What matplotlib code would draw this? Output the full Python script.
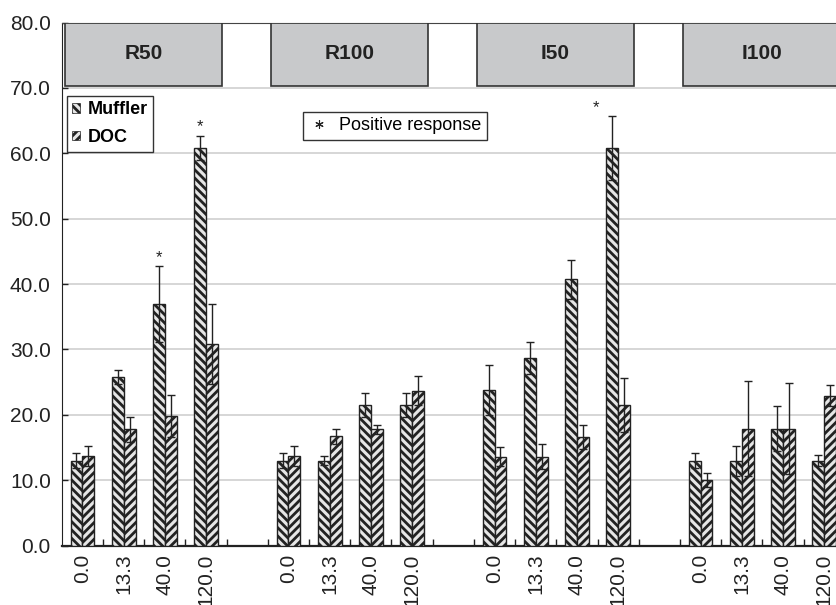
import numpy as np
import matplotlib.pyplot as plt
from matplotlib.patches import Patch, Rectangle
from matplotlib.lines import Line2D

# ============================
# DATA
# ============================
groups = ["R50", "R100", "I50", "I100"]
doses = ["0.0", "13.3", "40.0", "120.0"]

muffler = [[13.0, 25.8, 36.9, 60.8],
           [13.0, 13.0, 21.5, 21.5],
           [23.8, 28.7, 40.7, 60.8],
           [13.0, 13.0, 17.9, 13.0]]
muffler_err = [[1.1, 1.1, 5.8, 1.9],
               [1.1, 0.7, 1.8, 1.8],
               [3.8, 2.4, 3.0, 4.9],
               [1.2, 2.3, 3.5, 0.8]]
doc = [[13.7, 17.8, 19.8, 30.8],
       [13.7, 16.7, 17.8, 23.7],
       [13.6, 13.6, 16.6, 21.5],
       [10.0, 17.9, 17.9, 22.9]]
doc_err = [[1.5, 1.9, 3.2, 6.1],
           [1.5, 1.1, 0.7, 2.2],
           [1.5, 1.9, 1.9, 4.2],
           [1.1, 7.3, 6.9, 1.6]]

# positive responses: (group, dose index) on the Muffler bars
positive = [(0, 2), (0, 3), (2, 3)]

# ============================
# STYLE
# ============================
plt.rcParams['font.family'] = ['Liberation Sans', 'DejaVu Sans']
plt.rcParams['hatch.linewidth'] = 2.0
ink = '#222222'
bar_fill = '#e6e6e6'
box_gray = '#c8c9cb'
bw = 0.29

# ============================
# PLOT
# ============================
fig = plt.figure(figsize=(8.36, 6.05), dpi=100)
ax = fig.add_axes([0.074, 0.0983, 0.9266, 0.8645])

m = np.array(muffler)
me = np.array(muffler_err)
d = np.array(doc)
de = np.array(doc_err)
xpos = np.array([[g * 5 + i for i in range(4)] for g in range(4)], dtype=float)

ax.bar(xpos.ravel() - bw / 2, m.ravel(), bw, color=bar_fill, edgecolor=ink,
       hatch='\\\\\\\\', linewidth=1, zorder=3)
ax.bar(xpos.ravel() + bw / 2, d.ravel(), bw, color=bar_fill, edgecolor=ink,
       hatch='////', linewidth=1, zorder=3)
ax.errorbar(xpos.ravel() - bw / 2, m.ravel(), yerr=me.ravel(), fmt='none',
            ecolor=ink, elinewidth=1, capsize=3.2, capthick=1, zorder=4)
ax.errorbar(xpos.ravel() + bw / 2, d.ravel(), yerr=de.ravel(), fmt='none',
            ecolor=ink, elinewidth=1, capsize=3.2, capthick=1, zorder=4)

# asterisks above significant bars
for g, i in positive:
    top = m[g, i] + me[g, i]
    dx = -0.4 if top > 64 else 0.0
    ax.text(xpos[g, i] - bw / 2 + dx, top + 1.3, '*', ha='center', va='center',
            fontsize=12, color=ink, zorder=5)

# group header boxes
for g, name in enumerate(groups):
    x0 = g * 5 - 0.42
    ax.add_patch(Rectangle((x0, 70.3), 3.8, 9.7, facecolor=box_gray,
                           edgecolor='#333333', linewidth=1.2, zorder=4))
    ax.text(x0 + 1.9, 75.2, name, ha='center', va='center', fontsize=15,
            fontweight='bold', color=ink, zorder=5)

# axes
ax.set_xlim(-0.5, 18.3)
ax.set_ylim(0, 80)
ax.set_yticks(np.arange(0, 81, 10))
ax.set_yticklabels([f"{v:.1f}" for v in np.arange(0, 81, 10)])
ax.set_xticks(xpos.ravel())
ax.set_xticklabels(doses * 4, rotation=90)
ax.set_xticks(np.arange(0.5, 18, 1.0), minor=True)
ax.tick_params(axis='x', which='major', length=0, pad=6, labelsize=15, colors=ink)
ax.tick_params(axis='x', which='minor', direction='in', length=5, width=1, color=ink)
ax.tick_params(axis='y', direction='in', length=4, width=1, pad=8,
               labelsize=15, colors=ink)
ax.yaxis.grid(True, color='#cfcfcf', linewidth=1.2, zorder=0)
ax.set_axisbelow(True)
ax.spines['right'].set_visible(False)
ax.spines['top'].set_color('#444444')
ax.spines['left'].set_color(ink)
ax.spines['bottom'].set_color(ink)
ax.spines['bottom'].set_linewidth(1.6)

# legends
handles = [Patch(facecolor=bar_fill, edgecolor=ink, hatch='\\\\\\\\', linewidth=0.5),
           Patch(facecolor=bar_fill, edgecolor=ink, hatch='////', linewidth=0.5)]
leg = ax.legend(handles, ['Muffler', 'DOC'], loc='upper left',
                bbox_to_anchor=(0.0066, 0.8595), borderaxespad=0,
                prop={'weight': 'bold', 'size': 13}, handlelength=0.4,
                handleheight=0.4, handletextpad=0.45, labelspacing=0.6,
                borderpad=0.3, fancybox=False, framealpha=1, edgecolor='#333333')
leg.get_frame().set_linewidth(1)
leg.set_zorder(6)
ax.add_artist(leg)

star = Line2D([], [], linestyle='none', marker=(6, 2, 0), markersize=6,
              markeredgewidth=0.8, color=ink)
leg2 = ax.legend([star], ['Positive response'], loc='upper left',
                 bbox_to_anchor=(0.311, 0.829), borderaxespad=0,
                 prop={'size': 13}, handlelength=1.2, handletextpad=0.5,
                 borderpad=0.3, fancybox=False, framealpha=1, edgecolor='#333333')
leg2.get_frame().set_linewidth(1)
leg2.set_zorder(6)

fig.savefig('out.png', dpi=100)
